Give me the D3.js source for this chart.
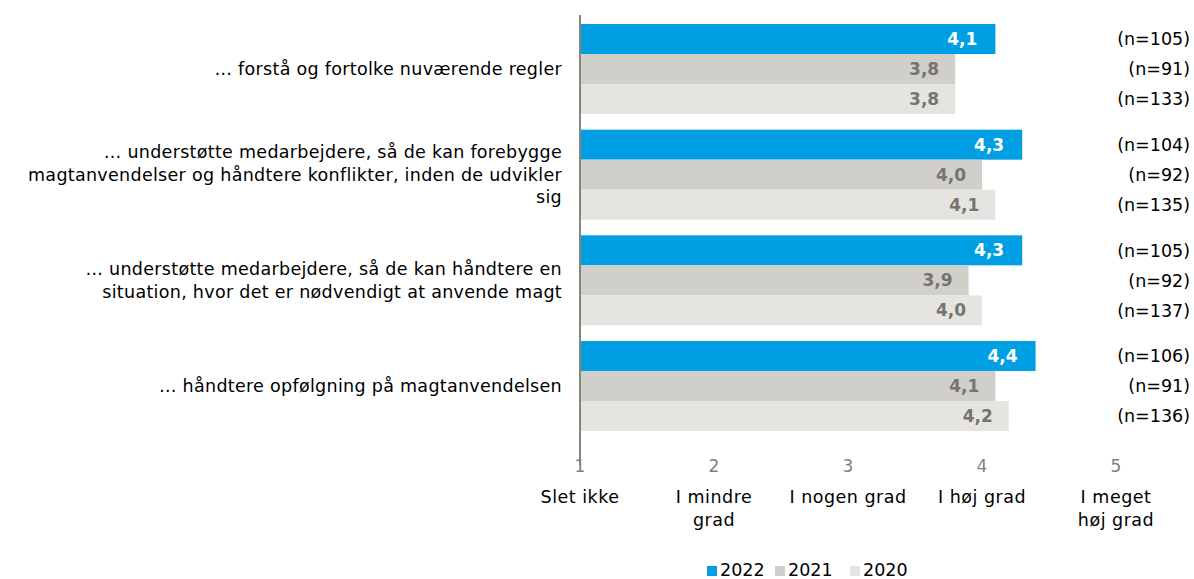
<!DOCTYPE html>
<meta charset="utf-8">
<script src="https://cdnjs.cloudflare.com/ajax/libs/d3/7.8.5/d3.min.js"></script>
<style>
  body { margin: 0; background: #fff; }
  text { font-family: "DejaVu Sans", Verdana, sans-serif; }
</style>
<div id="chart"></div>
<script>
  // data
  const categories = [
    ['… forstå og fortolke nuværende regler'],
    ['… understøtte medarbejdere, så de kan forebygge', 'magtanvendelser og håndtere konflikter, inden de udvikler', 'sig'],
    ['… understøtte medarbejdere, så de kan håndtere en', 'situation, hvor det er nødvendigt at anvende magt'],
    ['… håndtere opfølgning på magtanvendelsen']
  ]
  const years = ['2022', '2021', '2020']
  const values2022 = [4.1, 4.3, 4.3, 4.4]
  const values2021 = [3.8, 4.0, 3.9, 4.1]
  const values2020 = [3.8, 4.1, 4.0, 4.2]
  const n2022 = [105, 104, 105, 106]
  const n2021 = [91, 92, 92, 91]
  const n2020 = [133, 135, 137, 136]
  const ticks = [1, 2, 3, 4, 5]
  const tickLabels = [['Slet ikke'], ['I mindre', 'grad'], ['I nogen grad'], ['I høj grad'], ['I meget', 'høj grad']]

  const colors = { '2022': '#009fe3', '2021': '#d0cfca', '2020': '#e5e4e0' }
  const labelColors = { '2022': '#ffffff', '2021': '#777470', '2020': '#777470' }

  const width = 1194, height = 579
  const svg = d3.select('#chart').append('svg')
    .attr('width', width).attr('height', height)

  const x = d3.scaleLinear().domain([1, 5]).range([580, 1116])
  const y = d3.scaleBand().domain(d3.range(categories.length))
    .range([16.2, 438.8]).paddingInner(0.148).paddingOuter(0.074)
  const yInner = d3.scaleBand().domain(years).range([0, y.bandwidth()])

  const series = { '2022': values2022, '2021': values2021, '2020': values2020 }
  const ns = { '2022': n2022, '2021': n2021, '2020': n2020 }

  const rows = []
  categories.forEach((c, i) => {
    years.forEach(yr => rows.push({ i, yr, v: series[yr][i], n: ns[yr][i] }))
  })

  // bars
  svg.append('g').selectAll('rect').data(rows).join('rect')
    .attr('x', x(1))
    .attr('y', d => y(d.i) + yInner(d.yr))
    .attr('width', d => x(d.v) - x(1))
    .attr('height', yInner.bandwidth())
    .attr('fill', d => colors[d.yr])

  // value labels
  svg.append('g').selectAll('text').data(rows).join('text')
    .attr('x', d => x(d.v) - (d.yr === '2022' ? 18 : 16))
    .attr('y', d => y(d.i) + yInner(d.yr) + yInner.bandwidth() / 2)
    .attr('dy', '0.36em')
    .attr('text-anchor', 'end')
    .attr('font-size', 17)
    .attr('font-weight', 'bold')
    .attr('fill', d => labelColors[d.yr])
    .text(d => d3.format('.1f')(d.v).replace('.', ','))

  // n labels
  svg.append('g').selectAll('text').data(rows).join('text')
    .attr('x', 1190)
    .attr('y', d => y(d.i) + yInner(d.yr) + yInner.bandwidth() / 2)
    .attr('dy', '0.36em')
    .attr('text-anchor', 'end')
    .attr('font-size', 17.5)
    .attr('fill', '#000')
    .text(d => '(n=' + d.n + ')')

  // category labels
  const lineH = 22.5
  const cat = svg.append('g').selectAll('text').data(categories).join('text')
    .attr('text-anchor', 'end')
    .attr('font-size', 17.5)
    .attr('letter-spacing', 0.3)
    .attr('fill', '#000')
    .attr('transform', (d, i) => 'translate(562,' + (y(i) + y.bandwidth() / 2 - (d.length - 1) * lineH / 2) + ')')
  cat.selectAll('tspan').data(d => d).join('tspan')
    .attr('x', 0)
    .attr('y', (d, j) => j * lineH)
    .attr('dy', '0.36em')
    .text(d => d)

  // axis line
  svg.append('line')
    .attr('x1', x(1)).attr('x2', x(1))
    .attr('y1', 15).attr('y2', 465)
    .attr('stroke', '#8a8577').attr('stroke-width', 2)

  // tick numbers
  svg.append('g').selectAll('text').data(ticks).join('text')
    .attr('x', d => x(d))
    .attr('y', 466)
    .attr('dy', '0.36em')
    .attr('text-anchor', 'middle')
    .attr('font-size', 17)
    .attr('fill', '#808080')
    .text(d => d)

  // tick descriptions
  const tl = svg.append('g').selectAll('text').data(ticks).join('text')
    .attr('text-anchor', 'middle')
    .attr('font-size', 17.5)
    .attr('letter-spacing', 0.5)
    .attr('fill', '#000')
    .attr('transform', d => 'translate(' + x(d) + ',497)')
  tl.selectAll('tspan').data((d, i) => tickLabels[i]).join('tspan')
    .attr('x', 0)
    .attr('y', (d, j) => j * 23)
    .attr('dy', '0.36em')
    .text(d => d)

  // legend
  const legendX = [707, 775, 850]
  const lg = svg.append('g').selectAll('g').data(years).join('g')
    .attr('transform', (d, i) => 'translate(' + legendX[i] + ',570)')
  lg.append('rect').attr('x', 0).attr('y', -4).attr('width', 10).attr('height', 10)
    .attr('fill', d => colors[d])
  lg.append('text').attr('x', 13).attr('dy', '0.36em')
    .attr('font-size', 17.5)
    .attr('fill', '#000')
    .text(d => d)
</script>
